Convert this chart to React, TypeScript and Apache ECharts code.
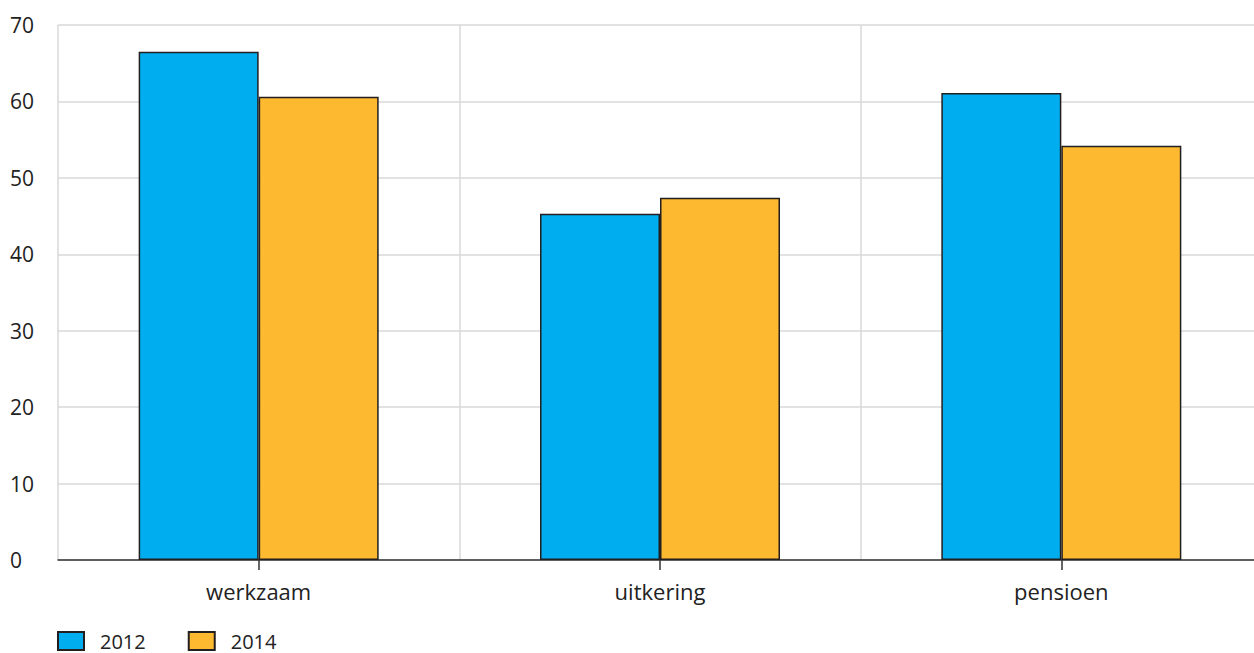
import React, { useEffect, useRef } from "react";
import * as echarts from "echarts";

const categories = ["werkzaam", "uitkering", "pensioen"];
const series2012 = [66.5, 45.3, 61.1];
const series2014 = [60.6, 47.4, 54.2];
const seriesNames = ["2012", "2014"];
const yTicks = { min: 0, max: 70, interval: 10 };

export default function App() {
  const ref = useRef<HTMLDivElement>(null);
  useEffect(() => {
    if (!ref.current) return;
    const chart = echarts.init(ref.current, undefined, { renderer: "svg" });
    const font = "'Open Sans', Lato, sans-serif";
    const border = { borderColor: "#231f20", borderWidth: 1.5 };
    chart.setOption({
      animation: false,
      textStyle: { fontFamily: font },
      grid: { left: 58, top: 25, right: 0, bottom: 93, containLabel: false },
      legend: {
        left: 57,
        top: 631,
        padding: 0,
        icon: "rect",
        itemWidth: 26,
        itemHeight: 18,
        itemGap: 42,
        textStyle: { fontSize: 20, color: "#222", fontFamily: font, padding: [0, 0, 0, 11] },
        data: seriesNames,
      },
      xAxis: {
        type: "category",
        data: categories,
        axisLine: { show: true, lineStyle: { color: "#333", width: 1.5 } },
        axisTick: { show: true, alignWithLabel: true, length: 10, lineStyle: { color: "#333", width: 1.5 } },
        axisLabel: { fontSize: 22, color: "#222", margin: 20, fontFamily: font },
        splitLine: { show: true, lineStyle: { color: "#d9d9d9", width: 1.5 } },
      },
      yAxis: {
        type: "value",
        min: yTicks.min,
        max: yTicks.max,
        interval: yTicks.interval,
        axisLine: { show: false },
        axisTick: { show: false },
        axisLabel: { fontSize: 21, color: "#222", align: "left", margin: 48, fontFamily: font },
        splitLine: { show: true, lineStyle: { color: "#d9d9d9", width: 1.5 } },
      },
      series: [
        {
          name: seriesNames[0],
          type: "bar",
          data: series2012,
          barWidth: 120,
          barGap: "0%",
          itemStyle: { color: "#00aeef", ...border },
        },
        {
          name: seriesNames[1],
          type: "bar",
          data: series2014,
          barWidth: 120,
          barGap: "0%",
          itemStyle: { color: "#fdb92f", ...border },
        },
      ],
    });
    return () => chart.dispose();
  }, []);
  return (
    <div style={{ position: "absolute", left: 0, top: 0, width: 1254, height: 653, overflow: "hidden" }}>
      <div ref={ref} style={{ width: 1262, height: 653 }} />
    </div>
  );
}
